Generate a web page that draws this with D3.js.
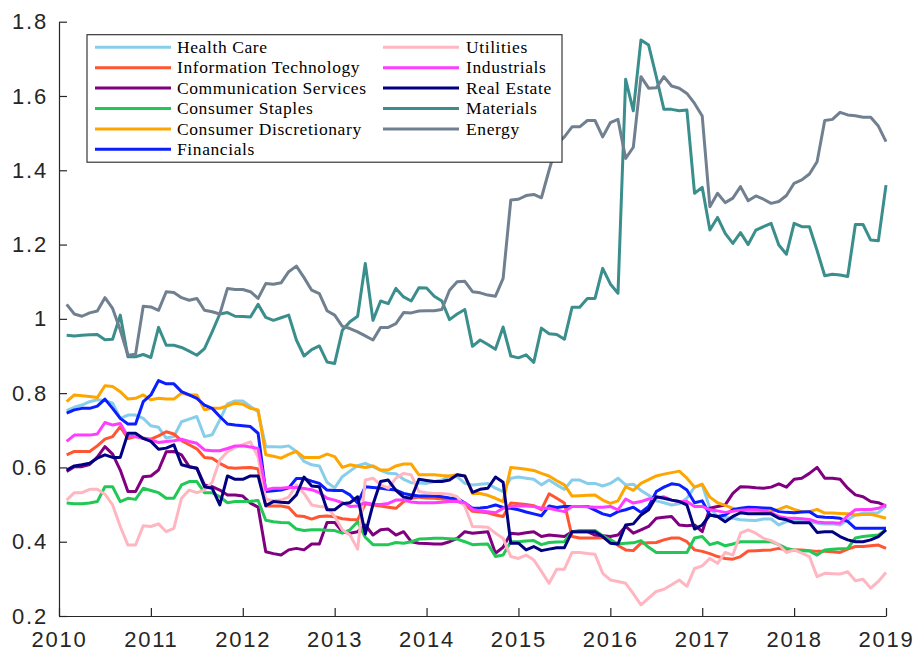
<!DOCTYPE html>
<html>
<head>
<meta charset="utf-8">
<script src="https://cdn.jsdelivr.net/npm/d3@7"></script>
<style>
  html, body { margin: 0; padding: 0; background: #fff; }
  svg { display: block; }
</style>
</head>
<body>
<script>
// ---------- DATA (monthly, Feb 2010 .. Jan 2019) ----------
const sectorNames = ["Health Care","Information Technology","Communication Services","Consumer Staples",
  "Consumer Discretionary","Financials","Utilities","Industrials","Real Estate","Materials","Energy"];
const sectorColors = ["#87CEEB","#FF5533","#800080","#22C855","#FFA500","#0A1EFF",
  "#FFB6C1","#FF3DFF","#000080","#3A8E8C","#708090"];
const yTicks = [0.2,0.4,0.6,0.8,1.0,1.2,1.4,1.6,1.8];
const yTickLabels = ["0.2","0.4","0.6","0.8","1","1.2","1.4","1.6","1.8"];
const xTicks = [2010,2011,2012,2013,2014,2015,2016,2017,2018,2019];
const monthIndex = d3.range(1, 109);           // months after Jan 2010

const healthCare = [
0.753,0.762,0.768,0.777,0.782,0.780,0.773,0.732,0.741,0.741,0.732,0.712,
0.708,0.679,0.683,0.723,0.730,0.737,0.683,0.688,0.728,0.771,0.779,0.779,
0.764,0.750,0.656,0.656,0.655,0.658,0.643,0.616,0.607,0.604,0.560,0.545,
0.575,0.590,0.605,0.611,0.602,0.592,0.584,0.583,0.568,0.559,0.558,0.557,
0.562,0.566,0.577,0.575,0.557,0.553,0.555,0.557,0.544,0.535,0.571,0.574,
0.571,0.568,0.553,0.566,0.553,0.541,0.566,0.566,0.557,0.557,0.550,0.557,
0.571,0.553,0.555,0.538,0.525,0.510,0.505,0.499,0.502,0.517,0.547,0.553,
0.490,0.468,0.465,0.463,0.459,0.458,0.457,0.461,0.461,0.445,0.454,0.459,
0.456,0.454,0.450,0.448,0.448,0.445,0.459,0.472,0.477,0.477,0.478,0.496];
const infoTech = [
0.634,0.643,0.643,0.643,0.658,0.676,0.683,0.710,0.678,0.683,0.679,0.676,
0.685,0.696,0.690,0.672,0.661,0.650,0.627,0.625,0.611,0.600,0.598,0.599,
0.600,0.596,0.496,0.496,0.496,0.492,0.470,0.468,0.461,0.468,0.469,0.467,
0.462,0.460,0.459,0.502,0.499,0.496,0.493,0.490,0.508,0.517,0.520,0.518,
0.517,0.515,0.513,0.510,0.500,0.482,0.480,0.478,0.472,0.468,0.504,0.502,
0.500,0.497,0.486,0.529,0.517,0.504,0.414,0.410,0.410,0.410,0.411,0.406,
0.390,0.378,0.376,0.396,0.397,0.398,0.405,0.410,0.410,0.400,0.378,0.374,
0.368,0.360,0.355,0.353,0.360,0.375,0.376,0.377,0.378,0.382,0.379,0.378,
0.378,0.376,0.374,0.374,0.373,0.371,0.380,0.387,0.387,0.389,0.391,0.382];
const commServices = [
0.589,0.602,0.602,0.608,0.628,0.656,0.636,0.593,0.535,0.535,0.575,0.577,
0.593,0.642,0.643,0.634,0.602,0.598,0.553,0.548,0.539,0.526,0.526,0.523,
0.504,0.493,0.373,0.368,0.364,0.378,0.382,0.378,0.394,0.394,0.452,0.452,
0.427,0.423,0.427,0.445,0.418,0.432,0.434,0.418,0.427,0.400,0.396,0.395,
0.394,0.394,0.400,0.409,0.427,0.423,0.425,0.427,0.369,0.385,0.423,0.421,
0.424,0.427,0.414,0.418,0.416,0.414,0.427,0.427,0.427,0.418,0.416,0.414,
0.418,0.441,0.423,0.432,0.441,0.463,0.466,0.468,0.445,0.443,0.445,0.427,
0.490,0.495,0.499,0.530,0.548,0.547,0.545,0.544,0.547,0.556,0.547,0.568,
0.571,0.584,0.600,0.571,0.571,0.568,0.544,0.526,0.521,0.508,0.505,0.496];
const consStaples = [
0.504,0.502,0.502,0.504,0.508,0.548,0.548,0.508,0.517,0.514,0.544,0.538,
0.532,0.517,0.517,0.553,0.562,0.562,0.532,0.532,0.521,0.505,0.508,0.508,
0.509,0.511,0.458,0.454,0.452,0.451,0.434,0.430,0.432,0.432,0.431,0.430,
0.423,0.432,0.454,0.412,0.392,0.392,0.392,0.398,0.396,0.400,0.407,0.408,
0.409,0.409,0.408,0.407,0.400,0.392,0.393,0.394,0.360,0.364,0.400,0.400,
0.402,0.403,0.392,0.398,0.399,0.400,0.427,0.430,0.430,0.430,0.416,0.405,
0.394,0.396,0.397,0.403,0.385,0.371,0.371,0.371,0.371,0.371,0.410,0.414,
0.392,0.398,0.389,0.394,0.400,0.400,0.400,0.400,0.400,0.392,0.382,0.378,
0.376,0.375,0.364,0.378,0.380,0.381,0.382,0.410,0.414,0.416,0.418,0.432];
const consDisc = [
0.777,0.795,0.793,0.791,0.788,0.820,0.818,0.804,0.784,0.786,0.795,0.782,
0.786,0.784,0.784,0.800,0.795,0.795,0.755,0.759,0.759,0.766,0.773,0.770,
0.759,0.755,0.634,0.630,0.625,0.635,0.643,0.627,0.627,0.627,0.636,0.629,
0.600,0.607,0.603,0.600,0.604,0.593,0.593,0.604,0.609,0.609,0.580,0.580,
0.580,0.578,0.577,0.580,0.577,0.530,0.530,0.525,0.517,0.508,0.600,0.598,
0.595,0.592,0.584,0.577,0.564,0.553,0.523,0.524,0.525,0.526,0.512,0.503,
0.510,0.548,0.538,0.557,0.567,0.577,0.582,0.586,0.590,0.571,0.547,0.555,
0.520,0.505,0.498,0.490,0.484,0.484,0.482,0.481,0.481,0.487,0.495,0.487,
0.481,0.481,0.487,0.477,0.477,0.476,0.475,0.472,0.473,0.474,0.469,0.463];
const financials = [
0.746,0.755,0.759,0.759,0.765,0.784,0.759,0.732,0.717,0.717,0.777,0.795,
0.834,0.825,0.825,0.804,0.795,0.786,0.768,0.759,0.737,0.717,0.714,0.712,
0.710,0.692,0.535,0.537,0.539,0.545,0.570,0.570,0.563,0.557,0.539,0.538,
0.538,0.526,0.504,0.548,0.546,0.544,0.541,0.539,0.530,0.526,0.523,0.523,
0.523,0.521,0.518,0.517,0.504,0.490,0.491,0.493,0.499,0.492,0.490,0.486,
0.480,0.475,0.470,0.496,0.492,0.495,0.495,0.495,0.495,0.485,0.475,0.470,
0.481,0.486,0.493,0.479,0.495,0.535,0.547,0.556,0.553,0.539,0.505,0.510,
0.472,0.468,0.472,0.486,0.490,0.493,0.492,0.491,0.490,0.481,0.479,0.478,
0.480,0.481,0.468,0.466,0.465,0.463,0.455,0.436,0.436,0.436,0.436,0.436];
const utilities = [
0.512,0.532,0.532,0.541,0.541,0.528,0.499,0.441,0.391,0.391,0.443,0.441,
0.448,0.427,0.436,0.517,0.539,0.532,0.539,0.560,0.620,0.642,0.654,0.661,
0.669,0.628,0.515,0.510,0.512,0.520,0.553,0.530,0.499,0.495,0.493,0.468,
0.432,0.418,0.380,0.566,0.571,0.553,0.544,0.571,0.584,0.580,0.535,0.532,
0.530,0.530,0.528,0.521,0.495,0.441,0.440,0.439,0.423,0.409,0.360,0.355,
0.364,0.351,0.320,0.288,0.326,0.326,0.371,0.371,0.368,0.366,0.315,0.297,
0.293,0.288,0.260,0.230,0.248,0.266,0.272,0.284,0.297,0.280,0.328,0.335,
0.355,0.342,0.371,0.364,0.423,0.432,0.423,0.409,0.403,0.392,0.371,0.378,
0.369,0.360,0.306,0.315,0.314,0.313,0.319,0.295,0.299,0.275,0.293,0.317];
const industrials = [
0.670,0.687,0.687,0.687,0.690,0.721,0.714,0.718,0.683,0.683,0.678,0.674,
0.667,0.670,0.672,0.676,0.670,0.665,0.647,0.645,0.645,0.651,0.658,0.658,
0.655,0.651,0.540,0.544,0.544,0.546,0.546,0.543,0.540,0.532,0.517,0.512,
0.505,0.495,0.496,0.505,0.501,0.500,0.503,0.512,0.512,0.507,0.505,0.505,
0.505,0.506,0.508,0.508,0.505,0.487,0.483,0.481,0.478,0.490,0.495,0.496,
0.496,0.495,0.490,0.490,0.485,0.481,0.495,0.495,0.494,0.493,0.493,0.495,
0.486,0.515,0.504,0.508,0.515,0.518,0.521,0.512,0.508,0.508,0.495,0.495,
0.486,0.483,0.479,0.482,0.485,0.486,0.486,0.484,0.478,0.468,0.464,0.463,
0.462,0.460,0.453,0.451,0.451,0.450,0.470,0.486,0.487,0.487,0.490,0.499];
const realEstate = [
0.593,0.604,0.607,0.611,0.625,0.634,0.627,0.627,0.692,0.692,0.678,0.670,
0.649,0.652,0.661,0.607,0.602,0.598,0.548,0.544,0.499,0.577,0.568,0.568,
0.577,0.577,0.497,0.508,0.506,0.505,0.526,0.574,0.550,0.548,0.486,0.486,
0.502,0.505,0.521,0.421,0.500,0.562,0.566,0.538,0.520,0.517,0.568,0.565,
0.562,0.562,0.566,0.580,0.577,0.533,0.541,0.544,0.574,0.560,0.396,0.396,
0.378,0.387,0.376,0.380,0.384,0.384,0.427,0.427,0.427,0.427,0.414,0.396,
0.394,0.445,0.448,0.472,0.486,0.521,0.517,0.512,0.508,0.499,0.434,0.445,
0.472,0.468,0.454,0.468,0.478,0.475,0.475,0.475,0.475,0.463,0.459,0.451,
0.451,0.451,0.425,0.427,0.427,0.414,0.405,0.400,0.400,0.405,0.414,0.432];
const materials = [
0.956,0.954,0.956,0.957,0.958,0.944,0.945,1.010,0.898,0.898,0.904,0.896,
0.977,0.929,0.929,0.923,0.913,0.902,0.920,0.965,1.013,1.017,1.007,1.006,
1.005,1.039,1.004,0.996,1.003,1.010,0.943,0.900,0.917,0.927,0.884,0.880,
0.969,0.992,1.007,1.149,0.996,1.048,1.041,1.082,1.059,1.048,1.084,1.083,
1.061,1.048,0.998,1.013,1.025,0.926,0.943,0.931,0.918,0.978,0.900,0.895,
0.903,0.883,0.975,0.960,0.958,0.945,1.031,1.031,1.055,1.055,1.136,1.094,
1.069,1.645,1.560,1.751,1.737,1.652,1.564,1.564,1.560,1.562,1.338,1.354,
1.239,1.273,1.230,1.203,1.232,1.200,1.239,1.248,1.257,1.199,1.174,1.257,
1.248,1.248,1.184,1.116,1.120,1.118,1.114,1.254,1.254,1.212,1.210,1.360];
const energy = [
1.039,1.013,1.007,1.016,1.021,1.057,1.028,0.970,0.902,0.905,1.034,1.032,
1.023,1.073,1.071,1.057,1.050,1.055,1.023,1.019,1.013,1.082,1.079,1.079,
1.073,1.055,1.095,1.093,1.097,1.127,1.142,1.111,1.077,1.068,1.022,1.010,
0.980,0.974,0.965,0.954,0.943,0.977,0.977,0.987,1.017,1.016,1.021,1.022,
1.022,1.025,1.077,1.100,1.101,1.073,1.070,1.064,1.061,1.109,1.320,1.322,
1.332,1.335,1.326,1.400,1.470,1.490,1.517,1.517,1.534,1.534,1.490,1.528,
1.537,1.432,1.462,1.652,1.621,1.622,1.652,1.627,1.621,1.607,1.580,1.546,
1.302,1.338,1.313,1.325,1.356,1.318,1.331,1.322,1.311,1.316,1.332,1.365,
1.374,1.390,1.423,1.534,1.537,1.556,1.549,1.547,1.543,1.543,1.519,1.477];

const seriesValues = [healthCare, infoTech, commServices, consStaples, consDisc, financials,
  utilities, industrials, realEstate, materials, energy];

// ---------- LAYOUT ----------
(function () {
const W = 917, H = 652;
const pL = 59, pR = 886, pT = 21.7, pB = 616;
const axisColor = "#262626";

const svg = d3.select("body").append("svg").attr("width", W).attr("height", H);

const x = d3.scaleLinear().domain([2010, 2019]).range([pL, pR]);
const y = d3.scaleLinear().domain([0.2, 1.8]).range([pB, pT]);

const dateOf = i => 2010 + i / 12;

const line = d3.line()
  .x((d, k) => x(dateOf(monthIndex[k])))
  .y(d => y(d));

svg.append("g").selectAll("path")
  .data(seriesValues)
  .join("path")
  .attr("d", d => line(d))
  .attr("fill", "none")
  .attr("stroke", (d, k) => sectorColors[k])
  .attr("stroke-width", 3)
  .attr("stroke-linejoin", "round")
  .attr("stroke-linecap", "butt");

const yAxis = d3.axisLeft(y).tickValues(yTicks)
  .tickFormat((d, k) => yTickLabels[k]).tickSizeInner(-8).tickSizeOuter(0).tickPadding(11);
const xAxis = d3.axisBottom(x).tickValues(xTicks)
  .tickFormat(d3.format("d")).tickSizeInner(-8).tickSizeOuter(0).tickPadding(15.5);

const gy = svg.append("g").attr("transform", `translate(${pL},0)`).call(yAxis);
const gx = svg.append("g").attr("transform", `translate(0,${pB})`).call(xAxis);

[gx, gy].forEach(g => {
  g.select(".domain").attr("stroke", axisColor).attr("stroke-width", 1.2);
  g.selectAll(".tick line").attr("stroke", axisColor).attr("stroke-width", 1.2);
  g.selectAll(".tick text")
    .attr("fill", axisColor)
    .style("font-family", "'Liberation Sans', Arial, sans-serif")
    .style("font-size", "22px")
    .style("letter-spacing", "1.8px");
});

const legX0 = 87, legY0 = 34.7, legW = 475, legH = 127.5;
const legend = svg.append("g");
legend.append("rect")
  .attr("x", legX0).attr("y", legY0).attr("width", legW).attr("height", legH)
  .attr("fill", "#fff").attr("stroke", axisColor).attr("stroke-width", 1.1);

const colLineX = [95, 383], colTextX = [177, 466];
const rowY0 = 47.3, rowStep = 20.4;
const items = sectorNames.map((n, k) => ({ name: n, color: sectorColors[k], col: k < 6 ? 0 : 1, row: k < 6 ? k : k - 6 }));

const li = legend.selectAll("g.item").data(items).join("g").attr("class", "item");
li.append("line")
  .attr("x1", d => colLineX[d.col]).attr("x2", d => colLineX[d.col] + 76)
  .attr("y1", d => rowY0 + d.row * rowStep).attr("y2", d => rowY0 + d.row * rowStep)
  .attr("stroke", d => d.color).attr("stroke-width", 3);
li.append("text")
  .attr("x", d => colTextX[d.col])
  .attr("y", d => rowY0 + d.row * rowStep + 5.6)
  .attr("fill", "#000")
  .style("font-family", "'Liberation Serif', 'Times New Roman', serif")
  .style("font-size", "17.5px")
  .style("letter-spacing", "0.6px")
  .text(d => d.name);
})();
</script>
</body>
</html>
